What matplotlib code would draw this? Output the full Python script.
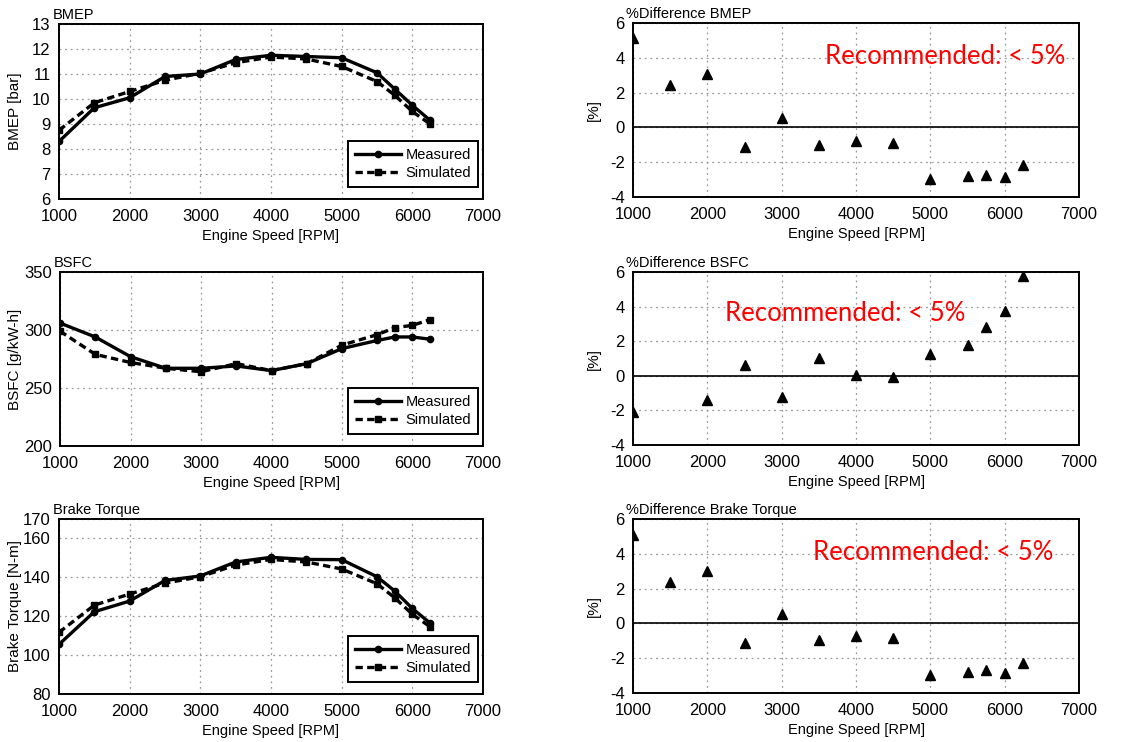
import matplotlib
matplotlib.use("Agg")
import matplotlib.pyplot as plt
import numpy as np

# ── Data ──────────────────────────────────────────────────────────────────────
rpm = [1000, 1500, 2000, 2500, 3000, 3500, 4000, 4500, 5000, 5500, 5750, 6000, 6250]

bmep_meas = [8.3, 9.65, 10.05, 10.9, 11.0, 11.58, 11.75, 11.7, 11.65, 11.05, 10.4, 9.75, 9.15]
bmep_sim  = [8.75, 9.85, 10.3, 10.75, 11.03, 11.45, 11.68, 11.6, 11.3, 10.7, 10.15, 9.5, 9.0]

bsfc_meas = [306, 294, 277, 267, 267, 269, 265, 271, 284, 291, 294, 294, 292]
bsfc_sim  = [299, 279, 272, 267, 264, 271, 265, 271, 287, 296, 302, 304, 309]

torque_meas = [105.5, 122.3, 127.8, 138.4, 140.7, 147.9, 150.3, 149.2, 149.1, 140.3, 133.0, 124.0, 116.5]
torque_sim  = [111.7, 125.7, 131.4, 137.0, 140.3, 146.3, 149.2, 147.9, 144.3, 136.7, 129.5, 121.0, 114.6]

bmep_diff = [5.13, 2.45, 3.08, -1.13, 0.52, -1.0, -0.8, -0.92, -2.95, -2.78, -2.72, -2.84, -2.16]

rpm_bsfc_diff = [1000, 2000, 2500, 3000, 3500, 4000, 4500, 5000, 5500, 5750, 6000, 6250]
bsfc_diff = [-2.1, -1.42, 0.65, -1.2, 1.0, 0.04, -0.06, 1.25, 1.78, 2.83, 3.72, 5.79]

torque_diff = [5.08, 2.4, 3.03, -1.11, 0.54, -0.98, -0.71, -0.84, -2.99, -2.78, -2.7, -2.84, -2.26]

plt.rcParams.update({
    "font.family": ["Liberation Sans", "DejaVu Sans"],
    "axes.unicode_minus": False,
    "axes.linewidth": 1.4,
    "xtick.direction": "in",
    "ytick.direction": "in",
    "xtick.major.size": 0,
    "ytick.major.size": 0,
})

W, H = 1126, 742
fig = plt.figure(figsize=(W / 100, H / 100), dpi=100)


def _axes(left, top, right, bottom):
    ax = fig.add_axes([left / W, (H - bottom) / H, (right - left) / W, (bottom - top) / H])
    ax._px_left, ax._px_width = left, right - left
    return ax


def _style(ax, title, ylabel, ylim, yticks, label_x):
    ax.set_xlim(1000, 7000)
    ax.set_xticks(range(1000, 7001, 1000))
    ax.set_ylim(*ylim)
    ax.set_yticks(yticks)
    ax.grid(True, linestyle=(0, (1.5, 3)), color="#9a9a9a", linewidth=0.9)
    ax.set_axisbelow(True)
    ax.tick_params(labelsize=12)
    ax.tick_params(axis="x", pad=7)
    ax.tick_params(axis="y", pad=6)
    ax.set_xlabel("Engine Speed [RPM]", fontsize=10.5, labelpad=4)
    ax.set_ylabel(ylabel, fontsize=11)
    # y labels sit at a fixed pixel column in the reference (right edge of rotated text)
    ax.yaxis.set_label_coords((label_x - ax._px_left) / ax._px_width, 0.5)
    ax.text(-0.015, 1.012, title, transform=ax.transAxes, fontsize=10.5,
            ha="left", va="bottom")


def line_panel(ax, meas, sim, title, ylabel, ylim, yticks):
    ax.plot(rpm, meas, color="black", linewidth=2.4, marker="o", markersize=4.5,
            label="Measured", zorder=3)
    ax.plot(rpm, sim, color="black", linewidth=2.4, linestyle=(0, (2.2, 1.3)),
            marker="s", markersize=5, label="Simulated", zorder=3)
    _style(ax, title, ylabel, ylim, yticks, 22)
    leg = ax.legend(loc="lower right", bbox_to_anchor=(0.988, 0.07), fontsize=10.5,
                    fancybox=False, edgecolor="black", framealpha=1,
                    handlelength=3.2, borderpad=0.45, labelspacing=0.3,
                    handletextpad=0.3, borderaxespad=0)
    leg.get_frame().set_linewidth(1.4)


def diff_panel(ax, x, vals, title, text_xy):
    ax.axhline(0, color="black", linewidth=1.2, zorder=2)
    ax.plot(x, vals, linestyle="none", marker="^", color="black", markersize=7, zorder=3)
    _style(ax, title, "[%]", (-4, 6), range(-4, 7, 2), 601)
    ax.text(text_xy[0], text_xy[1], "Recommended: < 5%", color="red", fontsize=18.5,
            family=["Lato", "DejaVu Sans"], ha="left", va="center")


ax1 = _axes(59, 24, 483, 199)
line_panel(ax1, bmep_meas, bmep_sim, "BMEP", "BMEP [bar]", (6, 13), range(6, 14))

ax2 = _axes(60, 272, 483, 446)
line_panel(ax2, bsfc_meas, bsfc_sim, "BSFC", "BSFC [g/kW-h]", (200, 350), range(200, 351, 50))

ax3 = _axes(59, 519, 483, 694)
line_panel(ax3, torque_meas, torque_sim, "Brake Torque", "Brake Torque [N-m]", (80, 170),
           [80, 100, 120, 140, 160, 170])

ax4 = _axes(633, 23, 1079, 197)
diff_panel(ax4, rpm, bmep_diff, "%Difference BMEP", (3584, 4.1))

ax5 = _axes(633, 272, 1079, 445)
diff_panel(ax5, rpm_bsfc_diff, bsfc_diff, "%Difference BSFC", (2238, 3.63))

ax6 = _axes(633, 519, 1079, 693)
diff_panel(ax6, rpm, torque_diff, "%Difference Brake Torque", (3423, 4.05))

fig.savefig("out.png", dpi=100, facecolor="white")
